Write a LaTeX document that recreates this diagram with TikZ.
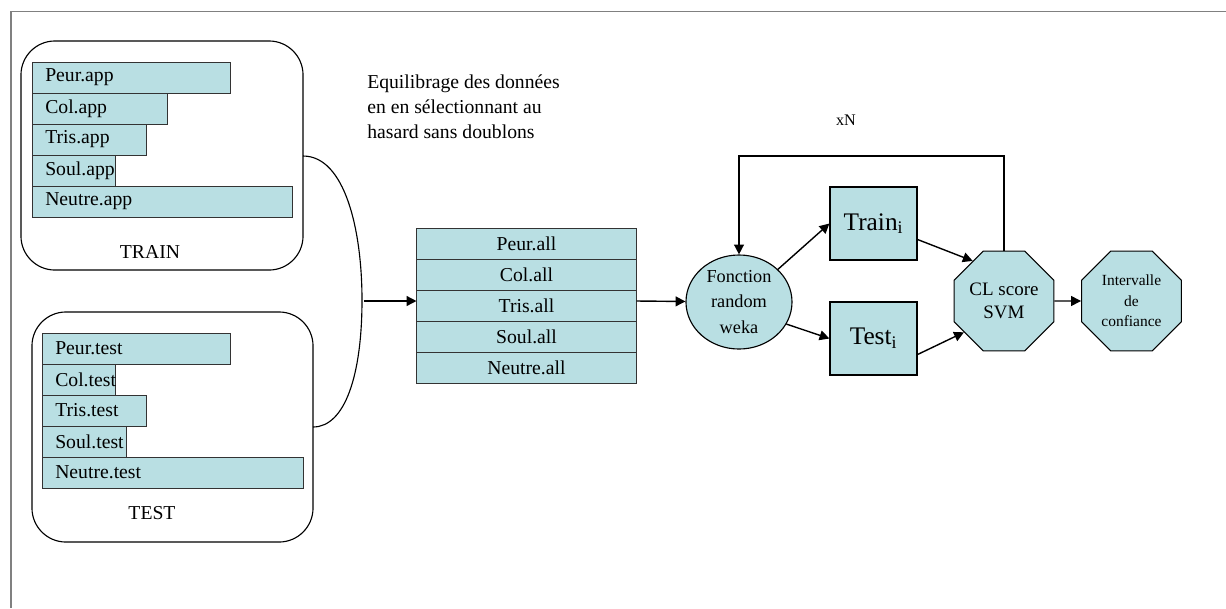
\documentclass[tikz,border=0pt]{standalone}
\usepackage{fontspec}
\setmainfont{Liberation Serif}
\usetikzlibrary{arrows.meta,shapes.geometric}
\definecolor{barfill}{RGB}{185,223,227}

\begin{document}
\begin{tikzpicture}[x=0.025cm, y=-0.025cm,
    group/.style={draw, line width=0.8pt, rounded corners=0.85cm},
    bar/.style={draw=black!80, fill=barfill, line width=0.7pt, anchor=north west,
                minimum height=0.775cm, inner sep=0pt},
    barlabel/.style={anchor=west, inner sep=0pt, font=\fontsize{14}{16}\selectfont},
    cell/.style={draw=black!80, fill=barfill, line width=0.7pt, inner sep=0pt,
                 minimum width=5.475cm, minimum height=0.775cm,
                 font=\fontsize{14}{16}\selectfont},
    setbox/.style={draw, fill=barfill, line width=0.8pt, minimum width=2.175cm,
                   minimum height=1.825cm, font=\fontsize{18}{20}\selectfont},
    octo/.style={regular polygon, regular polygon sides=8, draw, fill=barfill,
                 line width=0.8pt, minimum size=2.7cm, inner sep=0pt, align=center},
    flow/.style={-{Triangle[length=7pt,width=7pt]}, line width=1pt},
    note/.style={align=left, inner sep=0pt, font=\fontsize{14}{17.8}\selectfont},
]
    \useasboundingbox (0,0) rectangle (1226,608);
    \draw[gray, line width=1.4pt] (11,608) -- (11,11.5) -- (1226,11.5);

    % training and test sets
    \node[group, minimum width=7.05cm, minimum height=5.725cm] (train) at (162,155.5) {};
    \node[group, minimum width=7.025cm, minimum height=5.75cm] (test) at (172.5,427) {};
    \foreach \name/\w/\row in {Peur/198/0, Col/135/1, Tris/114/2, Soul/83/3, Neutre/260/4} {
        \node[bar, minimum width=\w*0.025cm] (\name app) at (32,62+31*\row) {};
        \node[barlabel] (\name applabel) at (45,77.5+31*\row) {\name.app};
    }
    \foreach \name/\w/\row in {Peur/188/0, Col/73/1, Tris/104/2, Soul/84/3, Neutre/261/4} {
        \node[bar, minimum width=\w*0.025cm] (\name test) at (42,333+31*\row) {};
        \node[barlabel] (\name testlabel) at (55,348.5+31*\row) {\name.test};
    }
    \node[barlabel, anchor=center] (trainlabel) at (150,252) {TRAIN};
    \node[barlabel, anchor=center] (testlabel) at (152,513) {TEST};

    % balancing
    \coordinate (bracetop) at (303,156);
    \coordinate (bracebot) at (313,427);
    \coordinate (brace) at (364,301);
    \draw[line width=0.8pt] (bracetop) .. controls (345,156) and (362,230) .. (362,300)
        .. controls (362,375) and (345,427) .. (bracebot);
    \node[note, anchor=west] (balance) at (367,107)
        {Equilibrage des données\\en en sélectionnant au\\hasard sans doublons};
    \foreach \name/\row in {Peur/0, Col/1, Tris/2, Soul/3, Neutre/4}
        \node[cell] (\name all) at (526.5,243.5+31*\row) {\name.all};
    \draw[flow] (brace) -- (brace -| Trisall.west);

    % random split and scoring
    \node[ellipse, draw, fill=barfill, line width=0.8pt, minimum width=2.65cm,
          minimum height=2.35cm, inner sep=0pt, align=center,
          font=\fontsize{13}{17.8}\selectfont] (fonction) at (739,302)
        {Fonction\\random\\weka};
    \node[setbox] (trainset) at (873.5,223.5) {Train\textsubscript{i}};
    \node[setbox] (testset) at (873.5,338.5) {Test\textsubscript{i}};
    \node[octo, font=\fontsize{13.5}{16.4}\selectfont] (svm) at (1004,301) {CL score\\SVM};
    \node[octo, font=\fontsize{11}{14.6}\selectfont] (interval) at (1131.5,301)
        {Intervalle\\de\\confiance};
    \coordinate (looptop) at (870,156);
    \node[font=\fontsize{11.5}{13}\selectfont] (xn) at (846,120) {xN};

    \draw[flow] (Trisall.east |- brace) -- (fonction);
    \draw[flow] (fonction.40) -- (trainset.west);
    \draw[flow] (fonction.-25) -- (testset.west);
    \draw[flow] ([yshift=-0.4cm]trainset.east) -- (svm.128);
    \draw[flow] ([yshift=-0.4cm]testset.east) -- (svm.218);
    \draw[flow] (svm) -- (interval);
    \draw[flow] (svm.north) |- (looptop) -| (fonction.north);

\end{tikzpicture}
\end{document}
